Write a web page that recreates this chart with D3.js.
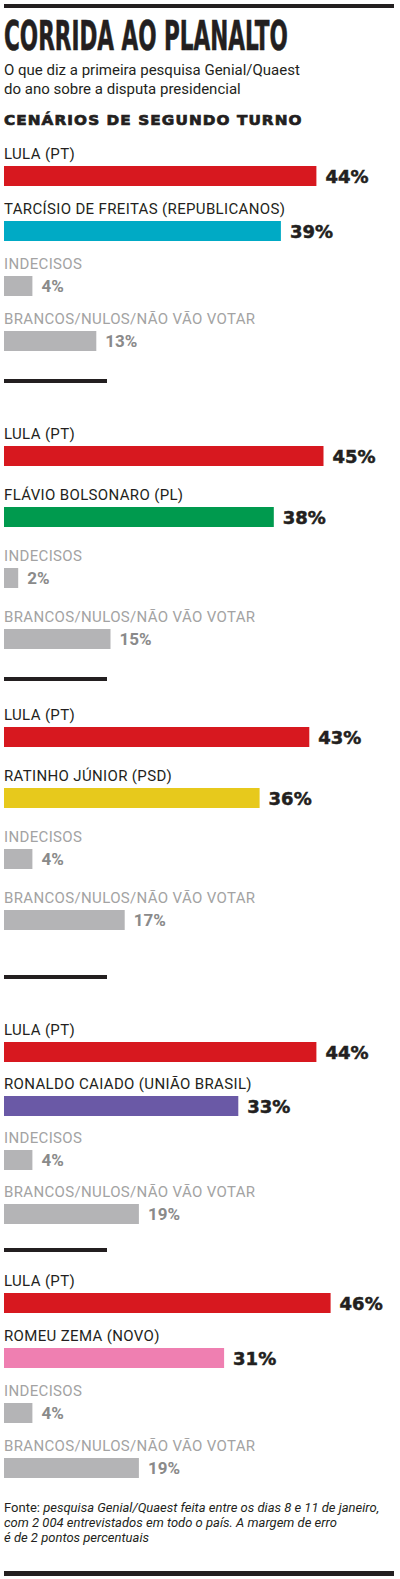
<!DOCTYPE html>
<html>
<head>
<meta charset="utf-8">
<style>
  body { margin: 0; background: #fff; }
  svg { display: block; }
</style>
</head>
<body>
<svg id="chart" width="400" height="1579"></svg>
<script src="https://cdn.jsdelivr.net/npm/d3@7"></script>
<script>
// data
const rowLabels = ["LULA (PT)", null, "INDECISOS", "BRANCOS/NULOS/NÃO VÃO VOTAR"];
const rivals = ["TARCÍSIO DE FREITAS (REPUBLICANOS)", "FLÁVIO BOLSONARO (PL)", "RATINHO JÚNIOR (PSD)", "RONALDO CAIADO (UNIÃO BRASIL)", "ROMEU ZEMA (NOVO)"];
const lulaValues = [44, 45, 43, 44, 46];
const rivalValues = [39, 38, 36, 33, 31];
const undecidedValues = [4, 2, 4, 4, 4];
const blankValues = [13, 15, 17, 19, 19];

// styles
const rivalColors = ["#00aac5", "#009a4e", "#e7c91c", "#6a59a6", "#ef7fb1"];
const lulaColor = "#d7181f";
const grayBar = "#b4b4b6";
const ink = "#231f20";

// layout
const scenarioTop = [159, 439, 720, 1035, 1286];
const rowGap = [55, 61, 61, 54, 55];
const separators = [379, 677, 975, 1248];

const svg = d3.select("#chart");
const x = d3.scaleLinear().domain([0, 100]).range([4, 714]);

// squeeze/stretch a text horizontally to a given width
function fitWidth(sel, w) {
  const bw = sel.node().getBBox().width;
  const x0 = +sel.attr("x");
  sel.attr("transform", `translate(${x0},0) scale(${w / bw},1) translate(${-x0},0)`);
}

svg.append("rect").attr("x", 4).attr("y", 4).attr("width", 390).attr("height", 4).attr("fill", ink);

const title = svg.append("text")
  .attr("x", 4).attr("y", 50)
  .attr("font-family", "'Liberation Sans Narrow', 'DejaVu Sans Condensed', Roboto, sans-serif")
  .attr("font-weight", 700).attr("font-size", 41)
  .attr("fill", ink).attr("stroke", ink).attr("stroke-width", 0.6)
  .text("CORRIDA AO PLANALTO");
fitWidth(title, 284);

svg.append("text").attr("x", 4).attr("y", 75)
  .attr("font-family", "Roboto, sans-serif").attr("font-size", 15).attr("fill", ink)
  .text("O que diz a primeira pesquisa Genial/Quaest");
svg.append("text").attr("x", 4).attr("y", 94)
  .attr("font-family", "Roboto, sans-serif").attr("font-size", 15).attr("fill", ink)
  .text("do ano sobre a disputa presidencial");

const head = svg.append("text").attr("x", 4).attr("y", 125)
  .attr("font-family", "'DejaVu Sans', sans-serif").attr("font-weight", 700).attr("font-size", 14)
  .attr("fill", ink).attr("stroke", ink).attr("stroke-width", 0.7)
  .attr("letter-spacing", 1)
  .text("CENÁRIOS DE SEGUNDO TURNO");
fitWidth(head, 299);

rivals.forEach((rival, s) => {
  const rows = [
    {label: rowLabels[0], value: lulaValues[s], color: lulaColor, main: true},
    {label: rival, value: rivalValues[s], color: rivalColors[s], main: true},
    {label: rowLabels[2], value: undecidedValues[s], color: grayBar, main: false},
    {label: rowLabels[3], value: blankValues[s], color: grayBar, main: false}
  ];
  const y = d3.scaleLinear().domain([0, 3]).range([scenarioTop[s], scenarioTop[s] + 3 * rowGap[s]]);

  const g = svg.append("g").selectAll("g").data(rows).join("g")
    .attr("transform", (d, i) => `translate(0,${y(i)})`);

  g.append("text")
    .attr("x", 4).attr("y", 0)
    .attr("font-family", "Roboto, sans-serif").attr("font-size", 15)
    .attr("letter-spacing", 0.35)
    .attr("fill", d => d.main ? ink : "#a3a3a3")
    .text(d => d.label);

  g.append("rect")
    .attr("x", x(0)).attr("y", 7)
    .attr("width", d => x(d.value) - x(0)).attr("height", 20)
    .attr("fill", d => d.color);

  g.append("text")
    .attr("x", d => x(d.value) + 9)
    .attr("y", d => d.main ? 24 : 23)
    .attr("font-family", d => d.main ? "'DejaVu Sans', sans-serif" : "Roboto, sans-serif")
    .attr("font-weight", 700)
    .attr("font-size", d => d.main ? 18 : 17)
    .attr("fill", d => d.main ? ink : "#8a8a8a")
    .attr("stroke", d => d.main ? ink : "none").attr("stroke-width", 0.5)
    .text(d => d.value + "%");
});

svg.append("g").selectAll("rect").data(separators).join("rect")
  .attr("x", 4).attr("y", d => d).attr("width", 103).attr("height", 4).attr("fill", ink);

const foot = svg.append("text").attr("font-family", "Roboto, sans-serif").attr("font-size", 13).attr("fill", ink);
foot.append("tspan").attr("x", 4).attr("y", 1512).text("Fonte: ");
foot.append("tspan").attr("font-style", "italic").text("pesquisa Genial/Quaest feita entre os dias 8 e 11 de janeiro,");
foot.append("tspan").attr("x", 4).attr("y", 1527).attr("font-style", "italic").text("com 2 004 entrevistados em todo o país. A margem de erro");
foot.append("tspan").attr("x", 4).attr("y", 1542).attr("font-style", "italic").text("é de 2 pontos percentuais");

svg.append("rect").attr("x", 4).attr("y", 1571).attr("width", 390).attr("height", 5).attr("fill", ink);
</script>
</body>
</html>
